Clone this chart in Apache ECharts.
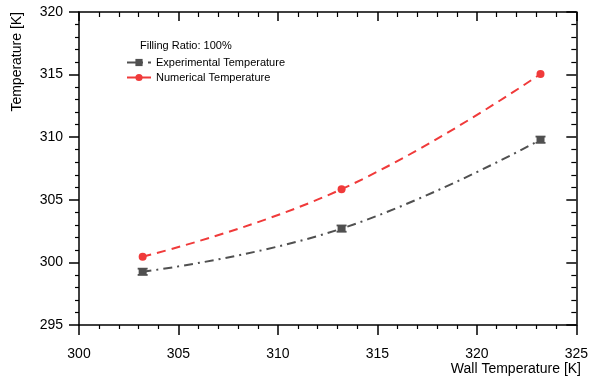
<!DOCTYPE html>
<html>
<head>
<meta charset="utf-8">
<script src="https://cdn.jsdelivr.net/npm/echarts@6/dist/echarts.min.js"></script>
<style>
  html, body { margin: 0; padding: 0; background: #fff; }
  #chart { width: 591px; height: 380px; }
</style>
</head>
<body>
<div id="chart"></div>
<script>
  // wall temperature [K]
  const wallTemp = [303.2, 313.2, 323.2];
  // measured / simulated temperature [K]
  const expTemp = [299.25, 302.7, 309.8];
  const expErr = [0.25, 0.25, 0.25];
  const numTemp = [300.45, 305.85, 315.05];

  const FONT = '"Liberation Sans", Arial, sans-serif';
  const GRAY = '#505050';
  const RED = '#f03a3a';

  const chart = echarts.init(document.getElementById('chart'), null, { renderer: 'canvas' });

  const baseAxis = {
    axisLine: { show: true, lineStyle: { color: '#000', width: 1.5 } },
    splitLine: { show: false },
    minorTick: { show: true, splitNumber: 5, length: 4, lineStyle: { color: '#000', width: 1.2 } },
    axisTick: { show: true, length: 10, lineStyle: { color: '#000', width: 1.5 } },
  };

  chart.setOption({
    animation: false,
    textStyle: { fontFamily: FONT },
    grid: { left: 79, right: 13, top: 12, bottom: 55 },
    legend: {
      left: 121, top: 52, orient: 'vertical',
      itemWidth: 24, itemHeight: 9, itemGap: 4,
      textStyle: { fontFamily: FONT, fontSize: 11, color: '#000', lineHeight: 11 },
      data: ['Experimental Temperature', 'Numerical Temperature'],
    },
    graphic: [
      { type: 'text', left: 140, top: 40, style: { text: 'Filling Ratio: 100%', font: '11px ' + FONT, fill: '#000' } },
      { type: 'text', x: 10, y: 12, rotation: Math.PI / 2, style: { text: 'Temperature [K]', font: '14px ' + FONT, fill: '#000', align: 'right', verticalAlign: 'top' } },
      { type: 'text', right: 10, top: 362, style: { text: 'Wall Temperature [K]', font: '14px ' + FONT, fill: '#000' } },
    ],
    xAxis: [
      Object.assign({}, baseAxis, {
        type: 'value', min: 300, max: 325, interval: 5, position: 'bottom',
        axisLabel: { color: '#000', fontSize: 14, margin: 22, fontFamily: FONT },
      }),
      Object.assign({}, baseAxis, {
        type: 'value', min: 300, max: 325, interval: 5, position: 'top',
        axisTick: { show: true, inside: true, length: 9, lineStyle: { color: '#000', width: 1.5 } },
        minorTick: { show: true, splitNumber: 5, length: 5, lineStyle: { color: '#000', width: 1.2 } },
        axisLabel: { show: false },
      }),
    ],
    yAxis: [
      Object.assign({}, baseAxis, {
        type: 'value', min: 295, max: 320, interval: 5, position: 'left',
        axisLabel: { color: '#000', fontSize: 14, margin: 16, fontFamily: FONT },
      }),
      Object.assign({}, baseAxis, {
        type: 'value', min: 295, max: 320, interval: 5, position: 'right',
        axisTick: { show: true, inside: true, length: 10, lineStyle: { color: '#000', width: 1.5 } },
        minorTick: { show: true, splitNumber: 5, length: 5, lineStyle: { color: '#000', width: 1.2 } },
        axisLabel: { show: false },
      }),
    ],
    series: [
      {
        name: 'Experimental Temperature',
        type: 'line',
        smooth: 0.45,
        data: wallTemp.map((x, i) => [x, expTemp[i]]),
        symbol: 'rect',
        symbolSize: [8, 6],
        itemStyle: { color: GRAY },
        lineStyle: { color: GRAY, width: 2, type: [9, 5, 2, 5] },
        z: 3,
      },
      {
        name: 'Experimental error',
        type: 'custom',
        data: wallTemp.map((x, i) => [x, expTemp[i] - expErr[i], expTemp[i] + expErr[i]]),
        renderItem: (params, api) => {
          const lo = api.coord([api.value(0), api.value(1)]);
          const hi = api.coord([api.value(0), api.value(2)]);
          const hw = 5;
          const st = { stroke: GRAY, lineWidth: 1.8 };
          return {
            type: 'group',
            children: [
              { type: 'line', shape: { x1: lo[0], y1: lo[1], x2: hi[0], y2: hi[1] }, style: st },
              { type: 'line', shape: { x1: lo[0] - hw, y1: lo[1], x2: lo[0] + hw, y2: lo[1] }, style: st },
              { type: 'line', shape: { x1: hi[0] - hw, y1: hi[1], x2: hi[0] + hw, y2: hi[1] }, style: st },
            ],
          };
        },
        z: 4,
      },
      {
        name: 'Numerical Temperature',
        type: 'line',
        smooth: 0.45,
        data: wallTemp.map((x, i) => [x, numTemp[i]]),
        symbol: 'circle',
        symbolSize: 8,
        itemStyle: { color: RED },
        lineStyle: { color: RED, width: 2, type: [9, 6] },
        z: 3,
      },
    ],
  });
</script>
</body>
</html>
